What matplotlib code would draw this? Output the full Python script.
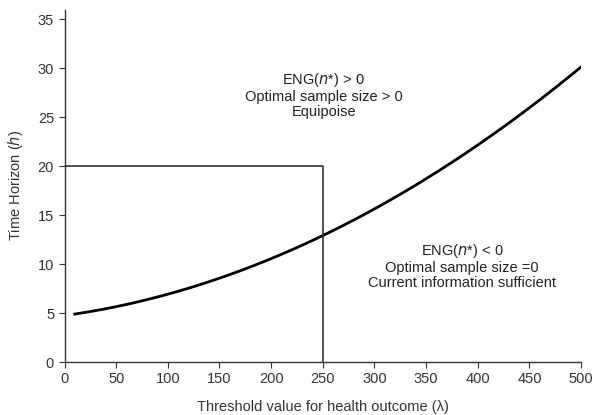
import numpy as np
import matplotlib.pyplot as plt

plt.rcParams['font.family'] = ['Liberation Sans', 'DejaVu Sans']

# threshold values (lambda) and the time horizon where ENG(n*) = 0
lam = [10, 50, 100, 150, 200, 250, 300, 350, 400, 450, 500]
horizon = [4.8, 5.7, 7.0, 8.6, 10.6, 12.9, 15.6, 18.7, 22.1, 26.0, 30.2]

# example point: lambda = 250, h = 20
box_x = [0, 250, 250]
box_y = [20, 20, 0]

x_ticks = list(range(0, 501, 50))
y_ticks = list(range(0, 36, 5))

fig = plt.figure(figsize=(5.94, 4.15), dpi=100)
ax = fig.add_axes([0.1086, 0.1277, 0.8697, 0.849])

# smooth curve through the read points with a quadratic fit
lam_s = np.linspace(lam[0], lam[-1], 200)
coef = np.polyfit(lam, horizon, 2)
ax.plot(lam_s, np.polyval(coef, lam_s), color='black', lw=2)
ax.plot(box_x, box_y, color='#222222', lw=1.1)

fs = 10.5
ax.text(251, 27.3, 'ENG($n$*) > 0\nOptimal sample size > 0\nEquipoise',
        ha='center', va='center', fontsize=fs, color='#222222', linespacing=1.1)
ax.text(385, 9.8, 'ENG($n$*) < 0\nOptimal sample size =0\nCurrent information sufficient',
        ha='center', va='center', fontsize=fs, color='#222222', linespacing=1.1)

ax.set_xlim(0, 500)
ax.set_ylim(0, 36)
ax.set_xticks(x_ticks)
ax.set_yticks(y_ticks)
ax.spines['top'].set_visible(False)
ax.spines['right'].set_visible(False)
for s in ['left', 'bottom']:
    ax.spines[s].set_color('#333333')
    ax.spines[s].set_linewidth(1.0)
ax.tick_params(direction='out', length=4, colors='#333333', labelsize=fs, labelcolor='#333333')
ax.set_xlabel('Threshold value for health outcome (λ)', fontsize=fs, color='#333333', labelpad=10)
ax.set_ylabel('Time Horizon ($h$)', fontsize=fs, color='#333333', labelpad=9)

fig.savefig('out.png', dpi=100)
